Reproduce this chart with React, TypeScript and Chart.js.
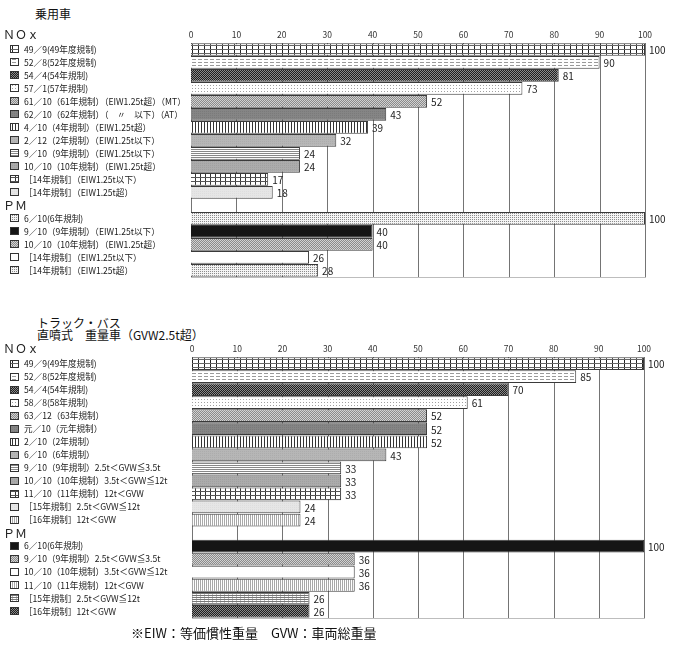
import React, { useEffect, useRef } from 'react';
import { Chart, registerables } from 'chart.js';

Chart.register(...registerables);

// ---------- data ----------
const xMin = 0;
const xMax = 100;
const xStep = 10;

const noxHeader = 'ＮＯｘ';
const pmHeader = 'ＰＭ';

const carTitle = '乗用車';
const carNoxLabels = [
  '49／9(49年度規制)',
  '52／8(52年度規制)',
  '54／4(54年規制)',
  '57／1(57年規制)',
  '61／10（61年規制）（EIW1.25t超）（MT）',
  '62／10（62年規制）（　〃　以下）（AT）',
  '4／10（4年規制）（EIW1.25t超）',
  '2／12（2年規制）（EIW1.25t以下）',
  '9／10（9年規制）（EIW1.25t以下）',
  '10／10（10年規制）（EIW1.25t超）',
  '［14年規制］（EIW1.25t以下）',
  '［14年規制］（EIW1.25t超）',
];
const carNoxValues = [100, 90, 81, 73, 52, 43, 39, 32, 24, 24, 17, 18];
const carPmLabels = [
  '6／10(6年規制)',
  '9／10（9年規制）（EIW1.25t以下）',
  '10／10（10年規制）（EIW1.25t超）',
  '［14年規制］（EIW1.25t以下）',
  '［14年規制］（EIW1.25t超）',
];
const carPmValues = [100, 40, 40, 26, 28];

const truckTitle1 = 'トラック・バス';
const truckTitle2 = '直噴式　重量車（GVW2.5t超）';
const truckNoxLabels = [
  '49／9(49年度規制)',
  '52／8(52年度規制)',
  '54／4(54年規制)',
  '58／8(58年規制)',
  '63／12（63年規制）',
  '元／10（元年規制）',
  '2／10（2年規制）',
  '6／10（6年規制）',
  '9／10（9年規制）2.5t＜GVW≦3.5t',
  '10／10（10年規制）3.5t＜GVW≦12t',
  '11／10（11年規制）12t＜GVW',
  '［15年規制］2.5t＜GVW≦12t',
  '［16年規制］12t＜GVW',
];
const truckNoxValues = [100, 85, 70, 61, 52, 52, 52, 43, 33, 33, 33, 24, 24];
const truckPmLabels = [
  '6／10(6年規制)',
  '9／10（9年規制）2.5t＜GVW≦3.5t',
  '10／10（10年規制）3.5t＜GVW≦12t',
  '11／10（11年規制）12t＜GVW',
  '［15年規制］2.5t＜GVW≦12t',
  '［16年規制］12t＜GVW',
];
const truckPmValues = [100, 36, 36, 36, 26, 26];

const footnote = '※EIW：等価慣性重量　GVW：車両総重量';

// ---------- styles (fill pattern names) ----------
const carNoxFills = ['grid', 'dash', 'checkDark', 'dotsLight', 'stipple', 'solidGray', 'vlines', 'lightGray', 'hlines', 'midGray', 'bigGrid', 'veryLight'];
const carPmFills = ['dotsDense', 'black', 'stipple', 'white', 'dotsDense'];
const truckNoxFills = ['grid', 'dash', 'checkDark', 'dotsLight', 'stipple', 'solidGray', 'vlines', 'lightGray', 'hlines', 'midGray', 'bigGrid', 'veryLight', 'vlinesLight'];
const truckPmFills = ['black', 'stipple', 'white', 'vlinesLight', 'hgrid', 'checkDark'];

const FONT = '"Noto Sans CJK JP", "Noto Sans", sans-serif';

function makeFill(kind: string): any {
  const c = document.createElement('canvas');
  const g = c.getContext('2d')!;
  const tile = (w: number, h: number, bg: string) => {
    c.width = w;
    c.height = h;
    g.fillStyle = bg;
    g.fillRect(0, 0, w, h);
  };
  const px = (x: number, y: number, col: string, w = 1, h = 1) => {
    g.fillStyle = col;
    g.fillRect(x, y, w, h);
  };
  switch (kind) {
    case 'grid':
      tile(6, 4, '#fff'); px(0, 0, '#222', 1, 4); px(0, 0, '#666', 6, 1); break;
    case 'dash':
      tile(6, 3, '#fff'); px(0, 1, '#9a9a9a', 4, 1); break;
    case 'checkDark':
      tile(2, 2, '#8a8a8a'); px(0, 0, '#1e1e1e'); px(1, 1, '#1e1e1e'); break;
    case 'dotsLight':
      tile(3, 3, '#fff'); px(0, 0, '#a0a0a0'); break;
    case 'stipple':
      tile(2, 2, '#d2d2d2'); px(0, 0, '#8a8a8a'); px(1, 1, '#8a8a8a'); break;
    case 'solidGray':
      tile(2, 2, '#858585'); px(0, 0, '#7a7a7a'); break;
    case 'vlines':
      tile(3, 1, '#fff'); px(0, 0, '#333'); break;
    case 'lightGray':
      tile(2, 2, '#b6b6b6'); px(0, 0, '#acacac'); break;
    case 'hlines':
      tile(1, 2, '#fff'); px(0, 0, '#888'); break;
    case 'midGray':
      tile(2, 2, '#ababab'); px(0, 0, '#a0a0a0'); break;
    case 'bigGrid':
      tile(5, 4, '#fff'); px(0, 0, '#333', 1, 4); px(0, 0, '#555', 5, 1); break;
    case 'veryLight':
      tile(2, 2, '#e6e6e6'); px(0, 0, '#dedede'); break;
    case 'dotsDense':
      tile(2, 2, '#f4f4f4'); px(0, 0, '#8a8a8a'); break;
    case 'black':
      return '#151515';
    case 'white':
      return '#ffffff';
    case 'vlinesLight':
      tile(2, 1, '#fff'); px(0, 0, '#a8a8a8'); break;
    case 'hgrid':
      tile(4, 2, '#fff'); px(0, 0, '#777', 4, 1); px(0, 1, '#bbb'); break;
    default:
      return 'rgba(0,0,0,0)';
  }
  return g.createPattern(c, 'repeat');
}

const decorPlugin = {
  id: 'decor',
  beforeDatasetsDraw(chart: any) {
    // vertical grid lines at the x scale's ticks
    const { ctx, chartArea } = chart;
    const xs = chart.scales.x;
    ctx.save();
    ctx.fillStyle = '#747474';
    const ticks = xs.ticks;
    for (let i = 0; i < ticks.length; i++) {
      const x = Math.round(xs.getPixelForValue(ticks[i].value));
      ctx.fillRect(x, Math.round(chartArea.top), 1, Math.round(chartArea.bottom - chartArea.top));
    }
    // faint bottom edge of the plot
    ctx.fillStyle = '#bdbdbd';
    ctx.fillRect(Math.round(chartArea.left), Math.round(chartArea.bottom), Math.round(chartArea.right - chartArea.left) + 1, 1);
    ctx.restore();
  },
  afterDatasetsDraw(chart: any) {
    const { ctx } = chart;
    const meta = chart.getDatasetMeta(0);
    const data = chart.data.datasets[0].data;
    ctx.save();
    ctx.font = `10px ${FONT}`;
    ctx.fillStyle = '#222';
    ctx.textBaseline = 'middle';
    ctx.textAlign = 'left';
    meta.data.forEach((bar: any, i: number) => {
      const v = data[i];
      if (v === null || v === undefined) return;
      ctx.fillText(String(v), bar.x + 4, bar.y + 1);
    });
    ctx.restore();
  },
  afterDraw(chart: any) {
    const { ctx, chartArea } = chart;
    const opts = chart.options.plugins.decor;
    const yScale = chart.scales.y;
    ctx.save();
    ctx.font = `12px ${FONT}`;
    ctx.fillStyle = '#222';
    ctx.textBaseline = 'middle';
    ctx.textAlign = 'left';
    ctx.fillText(opts.noxHeader, 3, chartArea.top - 9);
    ctx.fillText(opts.pmHeader, 3, yScale.getPixelForValue(opts.headerIndex));
    opts.fills.forEach((f: any, i: number) => {
      if (i === opts.headerIndex) return;
      const yc = Math.round(yScale.getPixelForValue(i));
      ctx.fillStyle = f;
      ctx.fillRect(10, yc - 4, 9, 8);
      ctx.strokeStyle = '#333';
      ctx.lineWidth = 1;
      ctx.strokeRect(10.5, yc - 3.5, 8, 7);
    });
    ctx.restore();
  },
};

type PanelProps = {
  noxLabels: string[];
  noxValues: number[];
  noxFills: string[];
  pmLabels: string[];
  pmValues: number[];
  pmFills: string[];
  top: number;
  height: number;
  yWidth: number;
  padRight: number;
};

function Panel(p: PanelProps) {
  const ref = useRef<HTMLCanvasElement>(null);
  useEffect(() => {
    const labels = [...p.noxLabels, pmHeader, ...p.pmLabels];
    const values: (number | null)[] = [...p.noxValues, null, ...p.pmValues];
    const fillNames = [...p.noxFills, 'none', ...p.pmFills];
    const headerIndex = p.noxLabels.length;
    const fills = fillNames.map((f) => makeFill(f));
    const chart = new Chart(ref.current as HTMLCanvasElement, {
      type: 'bar',
      data: {
        labels,
        datasets: [
          {
            data: values,
            backgroundColor: fills,
            borderColor: '#3a3a3a',
            borderWidth: 1,
            barPercentage: 0.98,
            categoryPercentage: 1,
          } as any,
        ],
      },
      options: {
        indexAxis: 'y',
        responsive: false,
        animation: false,
        devicePixelRatio: 1,
        layout: { padding: { left: 24, right: p.padRight, top: 0, bottom: 3 } },
        plugins: {
          legend: { display: false },
          tooltip: { enabled: false },
          decor: { noxHeader, pmHeader, headerIndex, fills },
        } as any,
        scales: {
          x: {
            position: 'top',
            min: xMin,
            max: xMax,
            ticks: {
              stepSize: xStep,
              font: { size: 8.5, family: FONT },
              color: '#333',
              padding: 3,
            },
            grid: { display: false, drawTicks: false },
            border: { display: false },
            afterFit: (s: any) => {
              s.height = 18;
            },
          },
          y: {
            ticks: {
              autoSkip: false,
              crossAlign: 'far',
              font: { size: 8.6, family: FONT },
              color: '#1a1a1a',
              callback: (_v: any, i: number) => (i === headerIndex ? '' : labels[i]),
            },
            grid: { display: false },
            border: { display: false },
            afterFit: (s: any) => {
              s.width = p.yWidth;
            },
          },
        },
      } as any,
      plugins: [decorPlugin as any],
    });
    return () => chart.destroy();
  }, []);
  return (
    <canvas
      ref={ref}
      width={676}
      height={p.height}
      style={{ position: 'absolute', left: 0, top: p.top, width: 676, height: p.height }}
    />
  );
}

const textStyle = (left: number, top: number, size: number): React.CSSProperties => ({
  position: 'absolute',
  left,
  top,
  fontSize: size,
  lineHeight: `${size + 4}px`,
  fontFamily: FONT,
  color: '#111',
  whiteSpace: 'nowrap',
});

export default function App() {
  return (
    <div style={{ position: 'absolute', left: 0, top: 0, width: 676, height: 648, background: '#fff', overflow: 'hidden' }}>
      <div style={textStyle(35, 6, 12)}>{carTitle}</div>
      <Panel
        noxLabels={carNoxLabels}
        noxValues={carNoxValues}
        noxFills={carNoxFills}
        pmLabels={carPmLabels}
        pmValues={carPmValues}
        pmFills={carPmFills}
        top={25}
        height={260}
        yWidth={167}
        padRight={31}
      />
      <div style={textStyle(37, 315, 12)}>{truckTitle1}</div>
      <div style={textStyle(37, 327, 12)}>{truckTitle2}</div>
      <Panel
        noxLabels={truckNoxLabels}
        noxValues={truckNoxValues}
        noxFills={truckNoxFills}
        pmLabels={truckPmLabels}
        pmValues={truckPmValues}
        pmFills={truckPmFills}
        top={339}
        height={287}
        yWidth={168}
        padRight={32}
      />
      <div style={textStyle(131, 624, 13)}>{footnote}</div>
    </div>
  );
}
